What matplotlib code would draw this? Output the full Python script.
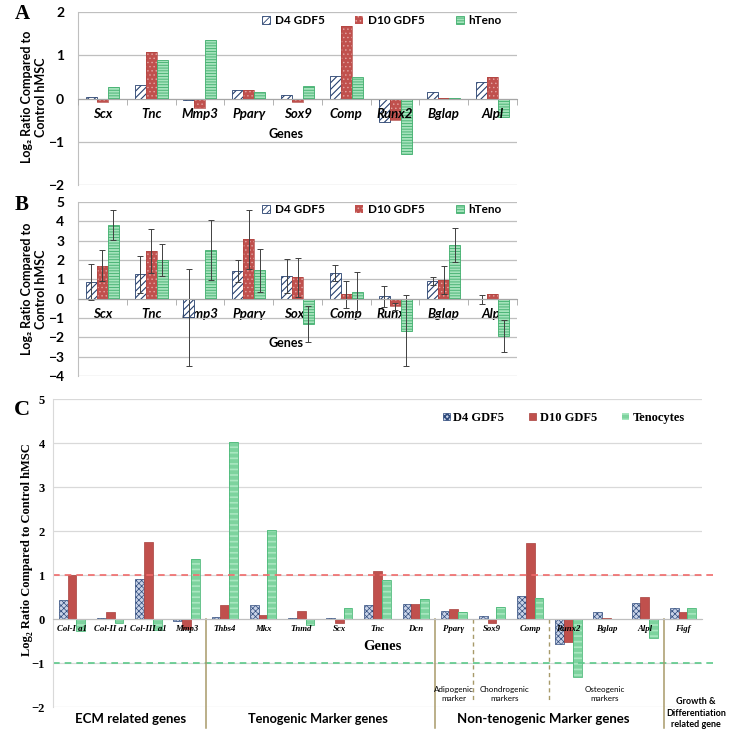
import numpy as np
import matplotlib
matplotlib.use('Agg')
import matplotlib.pyplot as plt

plt.rcParams['font.family'] = ['Lato', 'DejaVu Sans']
SERIF = ['Liberation Serif', 'DejaVu Serif']

W = H = 750.0

# ---- panels A and B ----
genes_ab = ['Scx', 'Tnc', 'Mmp3', 'Pparγ', 'Sox9', 'Comp', 'Runx2', 'Bglap', 'Alpl']
series_ab = ['D4 GDF5', 'D10 GDF5', 'hTeno']

a_d4 = [0.03, 0.32, -0.04, 0.20, 0.07, 0.53, -0.55, 0.15, 0.37]
a_d10 = [-0.07, 1.07, -0.22, 0.20, -0.07, 1.68, -0.50, 0.02, 0.50]
a_teno = [0.27, 0.88, 1.35, 0.15, 0.28, 0.50, -1.28, 0.01, -0.43]

b_d4 = [0.86, 1.26, -0.97, 1.45, 1.16, 1.31, 0.12, 0.90, -0.02]
b_d10 = [1.71, 2.47, 0.0, 3.07, 1.10, 0.22, -0.40, 0.95, 0.22]
b_teno = [3.83, 2.00, 2.52, 1.47, -1.33, 0.33, -1.65, 2.78, -1.94]
b_d4_err = [0.92, 0.95, 2.49, 0.57, 0.87, 0.42, 0.55, 0.20, 0.23]
b_d10_err = [0.80, 1.12, np.nan, 1.52, 1.00, 0.70, 0.20, 0.72, np.nan]
b_teno_err = [0.77, 0.82, 1.57, 1.10, 0.93, 1.03, 1.85, 0.86, 0.83]

# ---- panel C ----
genes_c = ['Col-I a1', 'Col-II a1', 'Col-III a1', 'Mmp3', 'Thbs4', 'Mkx', 'Tnmd',
           'Scx', 'Tnc', 'Dcn', 'Pparγ', 'Sox9', 'Comp', 'Runx2', 'Bglap', 'Alpl', 'Figf']
series_c = ['D4 GDF5', 'D10 GDF5', 'Tenocytes']
c_d4 = [0.44, 0.03, 0.90, -0.04, 0.05, 0.32, 0.02, 0.03, 0.32, 0.35, 0.19, 0.06,
        0.53, -0.56, 0.15, 0.37, 0.26]
c_d10 = [1.00, 0.15, 1.76, -0.23, 0.31, 0.09, 0.19, -0.09, 1.08, 0.35, 0.22, -0.08,
         1.72, -0.52, 0.02, 0.50, 0.15]
c_teno = [-0.27, -0.10, -0.25, 1.36, 4.03, 2.02, -0.13, 0.25, 0.88, 0.46, 0.15, 0.28,
          0.48, -1.32, 0.01, -0.44, 0.25]
group_sizes = [4, 6, 6, 1]       # ECM, tenogenic, non-tenogenic, growth
sub_sizes = [1, 2, 3]            # adipogenic, chondrogenic, osteogenic (inside non-tenogenic)


def px_axes(fig, left, top, right, bottom):
    return fig.add_axes([left / W, 1 - bottom / H, (right - left) / W, (bottom - top) / H])


def ftext(fig, x, y, s, **kw):
    fig.text(x / W, 1 - y / H, s, ha='center', va='center', **kw)


def style_ab(ax, genes, ylo, yhi, labels_on_top):
    n = len(genes)
    ax.set_xlim(-0.5, n - 0.5)
    ax.set_ylim(ylo, yhi)
    ax.set_yticks(np.arange(ylo, yhi + 1))
    ax.yaxis.grid(True, color='#BFBFBF', lw=0.9)
    ax.set_axisbelow(True)
    if labels_on_top:
        ax.xaxis.set_zorder(4)
    for s in ['top', 'right']:
        ax.spines[s].set_visible(False)
    ax.spines['left'].set_color('#BFBFBF')
    ax.spines['bottom'].set_position(('data', 0))
    ax.spines['bottom'].set_color('#A6A6A6')
    ax.set_xticks(np.arange(n))
    ax.set_xticklabels(genes, fontsize=9.5, fontweight='bold', fontstyle='italic')
    ax.set_xticks(np.arange(-0.5, n, 1), minor=True)
    ax.tick_params(axis='x', which='major', length=0, pad=7)
    ax.tick_params(axis='x', which='minor', length=4, color='#A6A6A6', direction='out')
    ax.tick_params(axis='y', length=0, labelsize=10, pad=10)
    for t in ax.get_yticklabels():
        t.set_fontweight('bold')


def bars_ab(ax, d4, d10, teno, errs=None):
    x = np.arange(len(d4))
    w = 0.225
    plt.rcParams['hatch.linewidth'] = 0.8
    ax.bar(x - w, d4, w, color='white', edgecolor='#26406E', hatch='/////', lw=0.6,
           label=series_ab[0])
    plt.rcParams['hatch.linewidth'] = 0.5
    ax.bar(x, d10, w, color='#C0504D', edgecolor='#E3A7A5', hatch='....', lw=0,
           label=series_ab[1])
    ax.bar(x, d10, w, fill=False, edgecolor='#B0443F', lw=0.5)
    plt.rcParams['hatch.linewidth'] = 0.6
    ax.bar(x + w, teno, w, color='#A5E3BC', edgecolor='#3FAE6C', hatch='------', lw=0.6,
           label=series_ab[2])
    if errs is not None:
        for off, vals, e in zip([-w, 0, w], [d4, d10, teno], errs):
            ax.errorbar(x + off, vals, yerr=e, fmt='none', ecolor='#404040',
                        elinewidth=0.7, capsize=2, capthick=0.7)
    ax.legend(loc='center', ncol=3, frameon=False,
              prop={'weight': 'bold', 'size': 8.5},
              handlelength=0.7, handleheight=0.7, handletextpad=0.4,
              columnspacing=2.6, bbox_to_anchor=(0.692, 0.95 if errs is None else 0.955))


fig = plt.figure(figsize=(7.5, 7.5), dpi=100)

# panel A
axA = px_axes(fig, 78, 12, 517, 185)
style_ab(axA, genes_ab, -2, 2, True)
bars_ab(axA, a_d4, a_d10, a_teno)
axA.text(0.474, 0.295, 'Genes', transform=axA.transAxes, ha='center', va='center',
         fontsize=9, fontweight='bold')
ftext(fig, 34, 97, 'Log₂ Ratio Compared to\nControl hMSC', rotation=90,
      fontsize=9, fontweight='bold', linespacing=1.2)
ftext(fig, 22, 14, 'A', fontsize=15, fontweight='bold', family=SERIF)

# panel B
axB = px_axes(fig, 78, 202, 517, 376)
style_ab(axB, genes_ab, -4, 5, False)
bars_ab(axB, b_d4, b_d10, b_teno, errs=[b_d4_err, b_d10_err, b_teno_err])
axB.text(0.474, 0.19, 'Genes', transform=axB.transAxes, ha='center', va='center',
         fontsize=9, fontweight='bold')
ftext(fig, 34, 289, 'Log₂ Ratio Compared to\nControl hMSC', rotation=90,
      fontsize=9, fontweight='bold', linespacing=1.2)
ftext(fig, 22, 205, 'B', fontsize=15, fontweight='bold', family=SERIF)

# panel C
axC = px_axes(fig, 53, 399, 702, 707)
n = len(genes_c)
x = np.arange(n)
w = 0.23
axC.set_xlim(-0.5, n - 0.5)
axC.set_ylim(-2, 5)
axC.set_yticks(np.arange(-2, 6))
axC.yaxis.grid(True, color='#D9D9D9', lw=0.9)
axC.set_axisbelow(True)
axC.xaxis.set_zorder(4)
for s in ['top', 'right']:
    axC.spines[s].set_visible(False)
axC.spines['left'].set_color('#D9D9D9')
axC.spines['bottom'].set_position(('data', 0))
axC.spines['bottom'].set_color('#BFBFBF')
axC.set_xticks(x)
axC.set_xticklabels(genes_c, fontsize=6.3, fontweight='bold', fontstyle='italic', family=SERIF)
axC.tick_params(axis='x', length=0, pad=4)
axC.tick_params(axis='y', length=0, labelsize=9, pad=6)
for t in axC.get_yticklabels():
    t.set_fontweight('bold')
    t.set_family(SERIF)

plt.rcParams['hatch.linewidth'] = 0.5
axC.bar(x - w, c_d4, w, color='#C9D3E8', edgecolor='#2F4B7C', hatch='xxxxxx', lw=0.5,
        label=series_c[0])
axC.bar(x, c_d10, w, color='#C0504D', edgecolor='#A8413D', lw=0.5, label=series_c[1])
plt.rcParams['hatch.linewidth'] = 1.2
axC.bar(x + w, c_teno, w, color='#7DD39E', edgecolor='#A9E7C0', hatch='---', lw=0,
        label=series_c[2])
axC.bar(x + w, c_teno, w, fill=False, edgecolor='#4DB97A', lw=0.6)

axC.axhline(1, xmax=1.025, color='#F06A6A', ls=(0, (4, 3)), lw=1.2, clip_on=False)
axC.axhline(-1, xmax=1.025, color='#5CC98A', ls=(0, (4, 3)), lw=1.2, clip_on=False)

bounds = np.cumsum(group_sizes)[:-1] - 0.5
for b in bounds:
    axC.plot([b, b], [0, -2.48], color='#A89A6A', lw=1.1, clip_on=False)
sub_bounds = group_sizes[0] + group_sizes[1] + np.cumsum(sub_sizes)[:-1] - 0.5
for b in sub_bounds:
    axC.plot([b, b], [0, -1.92], color='#A89A6A', lw=1.0, ls=(0, (3, 2.5)), clip_on=False)

axC.legend(loc='center', ncol=3, frameon=False, bbox_to_anchor=(0.787, 0.938),
           prop={'family': SERIF, 'weight': 'bold', 'size': 9},
           handlelength=0.55, handleheight=0.55, handletextpad=0.3, columnspacing=2.0)
axC.text(0.508, 0.198, 'Genes', transform=axC.transAxes, ha='center', va='center',
         fontsize=10.5, fontweight='bold', family=SERIF)

ftext(fig, 27, 550, 'Log₂ Ratio Compared to Control hMSC', rotation=90,
      fontsize=9, fontweight='bold', family=SERIF)
ftext(fig, 22, 410, 'C', fontsize=16, fontweight='bold', family=SERIF)

ftext(fig, 131, 719, 'ECM related genes', fontsize=9.5, fontweight='bold')
ftext(fig, 318, 719, 'Tenogenic Marker genes', fontsize=9.2, fontweight='bold')
ftext(fig, 543, 719, 'Non-tenogenic Marker genes', fontsize=9.5, fontweight='bold')
ftext(fig, 696, 713, 'Growth &\nDifferentiation\nrelated gene', fontsize=6.5,
      fontweight='bold', linespacing=1.3)
ftext(fig, 454, 694, 'Adipogenic\nmarker', fontsize=5.8, linespacing=1.3)
ftext(fig, 505, 694, 'Chondrogenic\nmarkers', fontsize=5.8, linespacing=1.3)
ftext(fig, 605, 694, 'Osteogenic\nmarkers', fontsize=5.8, linespacing=1.3)

fig.savefig('out.png', dpi=100, facecolor='white')
